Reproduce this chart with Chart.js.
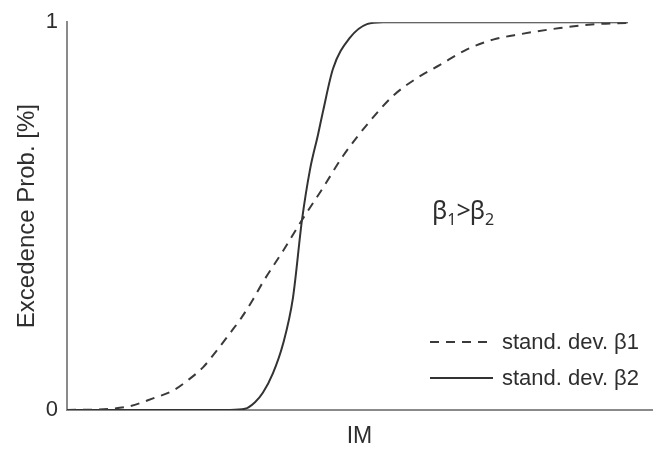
<!DOCTYPE html>
<html>
<head>
<meta charset="utf-8">
<script src="https://cdn.jsdelivr.net/npm/chart.js@4"></script>
<style>
  html, body { margin: 0; padding: 0; background: #fff; }
  #wrap { width: 659px; height: 449px; }
</style>
</head>
<body>
<div id="wrap"><canvas id="fragChart" width="659" height="449"></canvas></div>
<script>
  //values (IM in arbitrary units)
  const imDashed = [0, 4.3, 6.3, 8.6, 10.6, 12.1, 13.6, 15.0, 16.3, 17.5, 18.6, 19.6, 21.6, 23.5, 25.6, 27.6, 30.3, 32.6, 35.0, 37.3, 40.0, 42.6, 45.3, 49.3, 53.0, 56.1]
  const probDashed = [0, 0.003, 0.01, 0.03, 0.05, 0.077, 0.11, 0.154, 0.198, 0.24, 0.285, 0.33, 0.41, 0.49, 0.573, 0.655, 0.745, 0.81, 0.856, 0.89, 0.93, 0.955, 0.969, 0.985, 0.995, 0.998]

  const imSolid = [0, 16.3, 17.8, 18.8, 19.6, 20.6, 21.6, 22.6, 23.5, 24.3, 25.1, 25.6, 26.6, 28.3, 30.0, 31.6, 56.1]
  const probSolid = [0, 0, 0.003, 0.02, 0.045, 0.095, 0.17, 0.29, 0.49, 0.62, 0.71, 0.77, 0.88, 0.96, 0.995, 1.0, 1.0]

  const yTicks = [0, 1]
  const seriesLabels = ['stand. dev. \u03B21', 'stand. dev. \u03B22']

  const txtColor = '#2e2e2e'
  const axisColor = '#8a8a8a'
  const fontFam = '"Liberation Sans", Arial, sans-serif'

  function toPoints(xs, ys) {
    return xs.map(function (x, i) { return { x: x, y: ys[i] } })
  }

  //little legend down at the bottom right + the beta note
  const notesPlugin = {
    id: 'notes',
    afterDraw: function (chart) {
      const ctx = chart.ctx
      ctx.save()
      // legend rows
      const rows = [{ ds: chart.data.datasets[0], y: 342 }, { ds: chart.data.datasets[1], y: 378 }]
      rows.forEach(function (r) {
        ctx.strokeStyle = r.ds.borderColor
        ctx.lineWidth = r.ds.borderWidth
        ctx.setLineDash(r.ds.borderDash || [])
        ctx.beginPath()
        ctx.moveTo(430, r.y)
        ctx.lineTo(493, r.y)
        ctx.stroke()
        ctx.setLineDash([])
        ctx.fillStyle = txtColor
        ctx.font = '22px ' + fontFam
        ctx.textBaseline = 'middle'
        ctx.textAlign = 'left'
        ctx.fillText(r.ds.label, 502, r.y + 1)
      })

      // beta1 > beta2
      ctx.textBaseline = 'alphabetic'
      ctx.fillStyle = txtColor
      let x = 432
      const big = '25px "Noto Sans", "Open Sans", sans-serif'
      const small = '16px "Noto Sans", "Open Sans", sans-serif'
      const parts = [['\u03B2', big, 0, 0], ['1', small, 6, 0], ['>', big, 0, -1], ['\u03B2', big, 0, 0], ['2', small, 6, 0]]
      parts.forEach(function (p) {
        ctx.font = p[1]
        ctx.fillText(p[0], x, 219 + p[2])
        x += ctx.measureText(p[0]).width + p[3]
      })
      ctx.restore()
    }
  }

  new Chart('fragChart', {
    type: 'line',
    data: {
      datasets: [
        {
          label: seriesLabels[0],
          data: toPoints(imDashed, probDashed),
          borderColor: '#3a3a3a',
          borderWidth: 2,
          borderDash: [9, 7],
          pointRadius: 0,
          cubicInterpolationMode: 'monotone',
          fill: false
        },
        {
          label: seriesLabels[1],
          data: toPoints(imSolid, probSolid),
          borderColor: '#333333',
          borderWidth: 2,
          pointRadius: 0,
          cubicInterpolationMode: 'monotone',
          fill: false
        }
      ]
    },
    options: {
      responsive: false,
      animation: false,
      layout: { padding: { left: 0, right: 7, top: 21, bottom: 0 } },
      plugins: {
        legend: { display: false },
        tooltip: { enabled: false }
      },
      scales: {
        x: {
          type: 'linear',
          min: 0,
          max: 58.5,
          grid: { display: false, drawTicks: false },
          border: { display: true, color: axisColor, width: 2 },
          ticks: { display: false },
          title: {
            display: true,
            text: 'IM',
            color: txtColor,
            font: { size: 23, family: fontFam, lineHeight: 1 },
            padding: { top: 0, bottom: 1 }
          },
          afterFit: function (scale) { scale.height = 39 }
        },
        y: {
          min: 0,
          max: 1,
          grid: { display: false, drawTicks: false },
          border: { display: true, color: axisColor, width: 2 },
          afterBuildTicks: function (scale) {
            scale.ticks = yTicks.map(function (v) { return { value: v } })
          },
          ticks: {
            color: txtColor,
            padding: 9,
            font: { size: 22, family: fontFam },
            callback: function (v) { return String(v) }
          },
          title: {
            display: true,
            text: 'Excedence Prob. [%]',
            color: txtColor,
            font: { size: 24, family: fontFam, lineHeight: 1 },
            padding: { top: 15, bottom: 0 }
          },
          afterFit: function (scale) { scale.width = 67 }
        }
      }
    },
    plugins: [notesPlugin]
  })
</script>
</body>
</html>
